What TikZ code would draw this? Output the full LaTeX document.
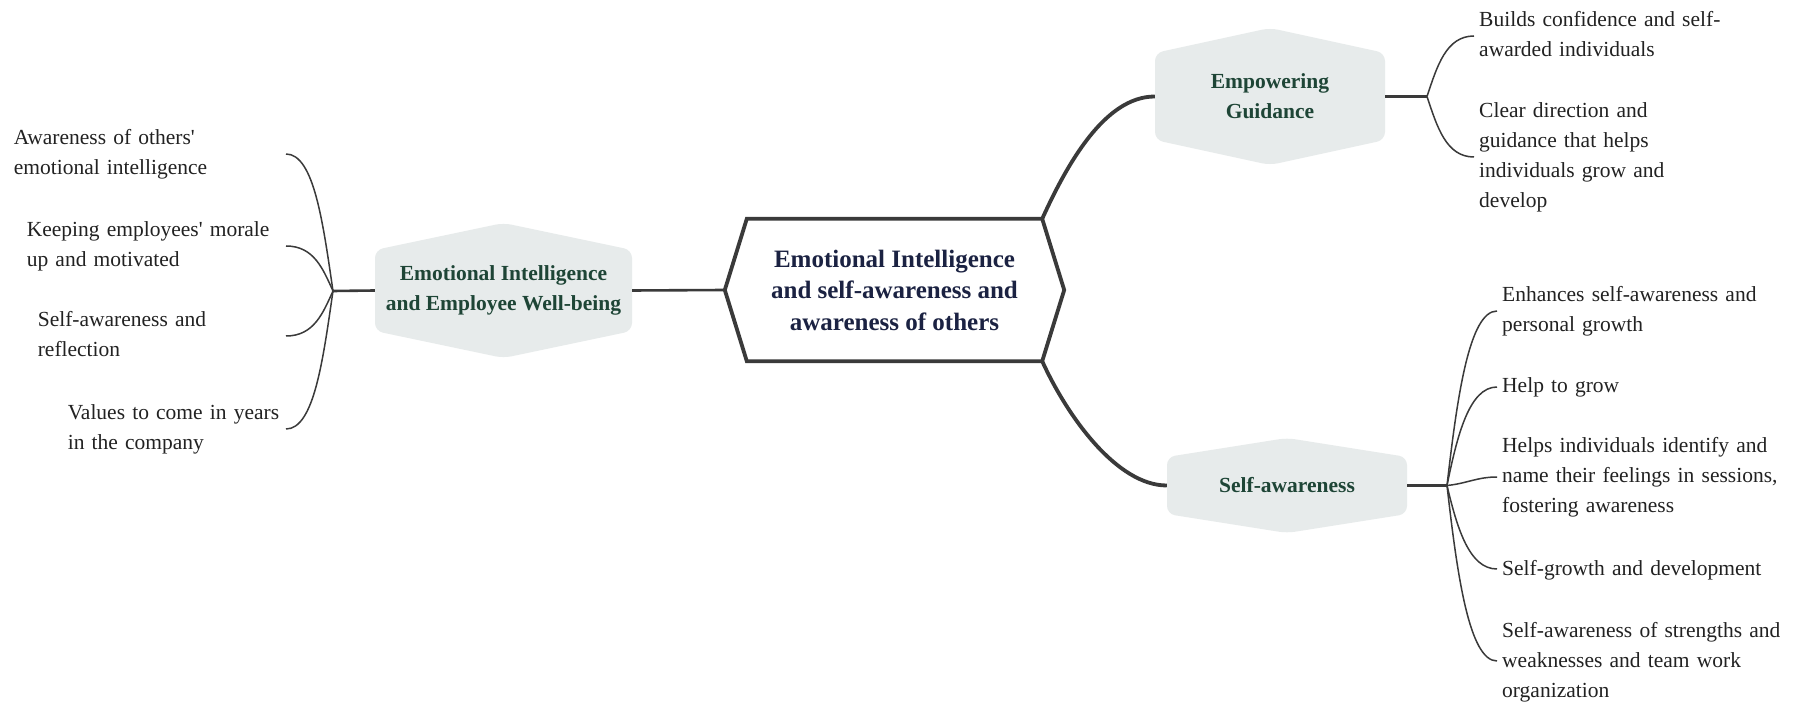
\documentclass[tikz,border=0pt]{standalone}
\usepackage{fontspec}
\setmainfont{Liberation Serif}
\usetikzlibrary{calc}
\definecolor{conncol}{HTML}{3A3A3A}
\definecolor{hexgray}{HTML}{E7EBEB}
\definecolor{branchgreen}{HTML}{1E4536}
\definecolor{navy}{HTML}{1B2242}
\definecolor{leafcol}{HTML}{222222}
\begin{document}
\begin{tikzpicture}[x=1pt,y=-1pt,
  conn/.style={draw=conncol, line width=3.8pt},
  midconn/.style={draw=conncol, line width=2.6pt},
  thinconn/.style={draw=conncol, line width=1.5pt},
  hexline/.style={draw=conncol, line width=3.8pt, line join=miter},
  hexbranch/.style={inner sep=0pt, align=center, text=branchgreen,
     font=\fontsize{21.5}{30}\selectfont\bfseries,
     path picture={\fill[hexgray, rounded corners=8pt]
        (path picture bounding box.north)
        -- ($(path picture bounding box.north east)+(0,#1)$)
        -- ($(path picture bounding box.south east)+(0,-#1)$)
        -- (path picture bounding box.south)
        -- ($(path picture bounding box.south west)+(0,-#1)$)
        -- ($(path picture bounding box.north west)+(0,#1)$)
        -- cycle;}},
  ctrnode/.style={inner sep=0pt, align=center, text=navy,
     font=\fontsize{25}{31.5}\selectfont\bfseries},
  leaf/.style={inner xsep=5pt, inner ysep=0pt, align=left, text=leafcol,
     font=\fontsize{21.5}{30}\selectfont,
     execute at begin node=\strut, execute at end node=\strut},
  leafL/.style={leaf, anchor=east, text width=#1},
  leafR/.style={leaf, anchor=west, text width=285pt}
]
\fill[white] (0,0) rectangle (1794,708);
\useasboundingbox (0,0) rectangle (1794,708);

% main nodes
\node[ctrnode, minimum width=339pt, minimum height=142pt] (ctr) at (894.5,290)
  {Emotional Intelligence\\and self-awareness and\\awareness of others};
\draw[hexline] (ctr.west) -- ([xshift=22pt]ctr.north west) -- ([xshift=-22pt]ctr.north east)
  -- (ctr.east) -- ([xshift=-22pt]ctr.south east) -- ([xshift=22pt]ctr.south west) -- cycle;

\node[hexbranch=27, minimum width=257pt, minimum height=135pt] (lh) at (503.5,290.5)
  {Emotional Intelligence\\and Employee Well-being};
\node[hexbranch=25, minimum width=230pt, minimum height=137pt] (emp) at (1270,96.5)
  {Empowering\\Guidance};
\node[hexbranch=19, minimum width=240pt, minimum height=95pt] (sa) at (1287,485.5)
  {Self-awareness};

\coordinate (ctrTR) at ([xshift=-22pt]ctr.north east);
\coordinate (ctrBR) at ([xshift=-22pt]ctr.south east);
\coordinate (lhub) at (333,291);
\coordinate (ehub) at (1427,96.5);
\coordinate (shub) at (1447,485.5);

% main connectors
\draw[midconn] (lh.east) -- (ctr.west);
\draw[conn] (ctrTR) .. controls +(25,-55) and +(-50,0) .. (emp.west);
\draw[conn] (ctrBR) .. controls +(25,55) and +(-50,0) .. (sa.west);
\draw[midconn] (lh.west) -- (lhub);
\draw[midconn] (emp.east) -- (ehub);
\draw[midconn] (sa.east) -- (shub);

% left leaves
\node[leafL=267pt] (l1) at (286,154) {Awareness of others\textquotesingle\\emotional intelligence};
\node[leafL=254pt] (l2) at (286,246) {Keeping employees\textquotesingle\ morale\\up and motivated};
\node[leafL=243pt] (l3) at (286,336) {Self-awareness and\\reflection};
\node[leafL=213pt] (l4) at (286,429) {Values to come in years\\in the company};
\draw[thinconn] (lhub) .. controls +(-10,-68) and +(28,0) .. (l1.east);
\draw[thinconn] (lhub) .. controls +(-10,-22) and +(28,0) .. (l2.east);
\draw[thinconn] (lhub) .. controls +(-10,22) and +(28,0) .. (l3.east);
\draw[thinconn] (lhub) .. controls +(-10,69) and +(28,0) .. (l4.east);

% empowering leaves
\node[leafR] (e1) at (1474,36) {Builds confidence and self-\\awarded individuals};
\node[leafR] (e2) at (1474,157) {Clear direction and\\guidance that helps\\individuals grow and\\develop};
\draw[thinconn] (ehub) .. controls +(10,-30) and +(-28,0) .. (e1.west);
\draw[thinconn] (ehub) .. controls +(10,30) and +(-28,0) .. (e2.west);

% self-awareness leaves
\node[leafR] (s1) at (1497,311) {Enhances self-awareness and\\personal growth};
\node[leafR] (s2) at (1497,387) {Help to grow};
\node[leafR] (s3) at (1497,477) {Helps individuals identify and\\name their feelings in sessions,\\fostering awareness};
\node[leafR] (s4) at (1497,569) {Self-growth and development};
\node[leafR] (s5) at (1497,661) {Self-awareness of strengths and\\weaknesses and team work\\organization};
\draw[thinconn] (shub) .. controls +(10,-87) and +(-28,0) .. (s1.west);
\draw[thinconn] (shub) .. controls +(10,-49) and +(-28,0) .. (s2.west);
\draw[thinconn] (shub) .. controls +(20,-2) and +(-20,0) .. (s3.west);
\draw[thinconn] (shub) .. controls +(10,42) and +(-28,0) .. (s4.west);
\draw[thinconn] (shub) .. controls +(10,88) and +(-28,0) .. (s5.west);
\end{tikzpicture}
\end{document}
